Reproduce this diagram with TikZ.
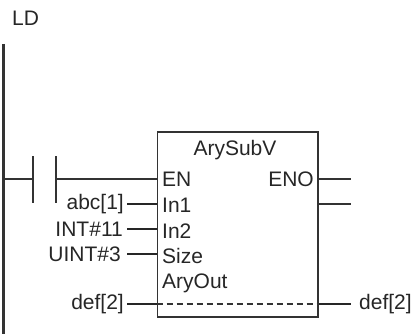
\documentclass[tikz,border=0pt]{standalone}
\usepackage{fontspec}
\setmainfont{Liberation Sans}
\usetikzlibrary{positioning}
\tikzset{
  wire/.style={line width=1.2pt,draw=black!80},
  stub/.style={line width=1.6pt,draw=black!85},
  rail/.style={line width=2.8pt,draw=black!80},
  lbl/.style={inner sep=0pt,font=\fontsize{21}{22}\selectfont,text=black!85},
  pinin/.style={lbl,anchor=west},
  argin/.style={lbl,anchor=east},
  fbbox/.style={draw=black!80,line width=1.6pt,minimum width=160.5pt,minimum height=185pt,inner sep=0pt}
}
\begin{document}
\begin{tikzpicture}[x=1pt,y=-1pt]
\useasboundingbox (0,0) rectangle (412,334);
\node[lbl,anchor=west] (ld) at (12,18) {LD};
\coordinate (railtop) at (3.5,44);
\coordinate (railbot) at (3.5,334);
\draw[rail] (railtop)--(railbot);
\node[fbbox] (fb) at (237.75,224.5) {};
\node[lbl] (name) at (235,150) {ArySubV};
\node[pinin] (en) at (162,179) {EN};
\node[pinin] (inone) at (162,205) {In1};
\node[pinin] (intwo) at (162,231) {In2};
\node[pinin] (size) at (162,256) {Size};
\node[pinin] (aryout) at (162,283) {AryOut};
\node[lbl,anchor=east] (eno) at (314,179) {ENO};
\node[argin] (abc) at (124,204) {abc[1]};
\node[argin] (intval) at (123,229) {INT\#11};
\node[argin] (uintval) at (121,254) {UINT\#3};
\node[argin] (defin) at (124,304) {def[2]};
\node[lbl,anchor=west] (defout) at (359,304) {def[2]};
% contact
\coordinate (cl) at (33,179);
\coordinate (cr) at (56,179);
\coordinate (enoend) at (351,179);
\coordinate (blankend) at (351,204);
\draw[wire] (cl)+(0,-23)--+(0,24);
\draw[wire] (cr)+(0,-23)--+(0,24);
\draw[wire] (railtop |- cl)--(cl);
\draw[wire] (cr)--(fb.west |- cr);
% inputs
\draw[stub] ([xshift=3pt]abc.east)--(fb.west |- abc);
\draw[stub] ([xshift=4pt]intval.east)--(fb.west |- intval);
\draw[stub] ([xshift=6pt]uintval.east)--(fb.west |- uintval);
\draw[stub] ([xshift=3pt]defin.east)--(fb.west |- defin);
% outputs
\draw[wire] (fb.east |- enoend)--(enoend);
\draw[wire] (fb.east |- blankend)--(blankend);
\draw[stub] (fb.east |- defout)--([xshift=-8pt]defout.west);
\draw[wire,dash pattern=on 6pt off 4pt] (fb.west |- defin)--(fb.east |- defout);
\end{tikzpicture}
\end{document}
